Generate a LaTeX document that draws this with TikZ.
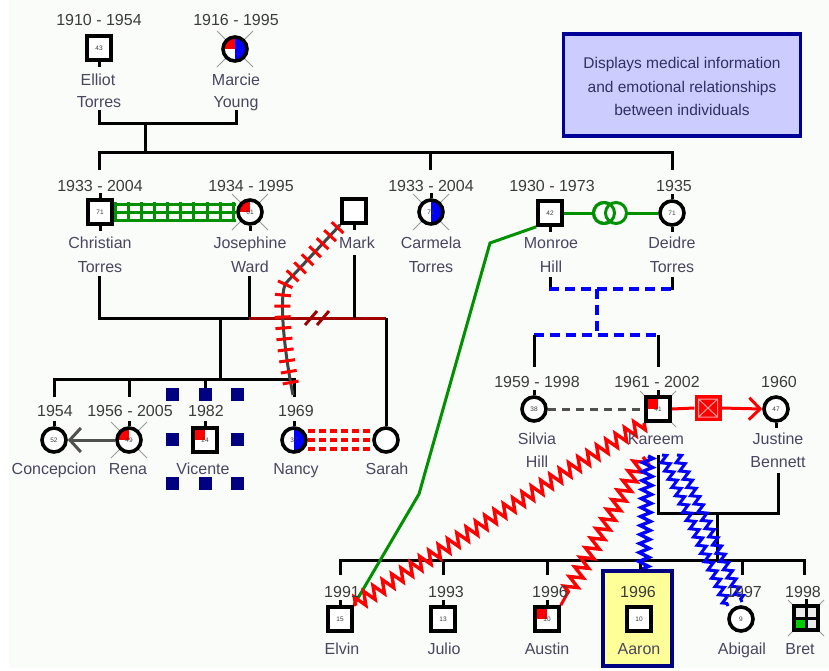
\documentclass[tikz,border=0pt]{standalone}
\usepackage{fontspec}
\setmainfont{Liberation Sans}
\usetikzlibrary{decorations.pathmorphing,decorations.markings,arrows.meta,calc}
\pgfdeclarelayer{bg}
\pgfdeclarelayer{rel}
\pgfsetlayers{bg,rel,main}
\definecolor{bgc}{HTML}{FAFCFA}
\definecolor{yearc}{HTML}{3C3C3C}
\definecolor{namec}{HTML}{4B4560}
\definecolor{dgreen}{HTML}{009000}
\definecolor{navy}{HTML}{000080}
\definecolor{maroon}{HTML}{A00000}
\definecolor{lav}{HTML}{CCCCFF}
\definecolor{boxb}{HTML}{000099}
\definecolor{hly}{HTML}{FFFF99}
\definecolor{relgray}{HTML}{505050}
\definecolor{xgray}{HTML}{9A9A9A}
\definecolor{mblue}{HTML}{0000FF}
\definecolor{mred}{HTML}{FF0000}
\definecolor{mgreen}{HTML}{00CC00}
\definecolor{hatchc}{HTML}{444444}
\definecolor{pink}{HTML}{FF9C9C}
\tikzset{
  symb/.style={draw=black, fill=white, line width=3.6pt, minimum size=24pt, inner sep=0pt,
    font=\fontsize{6.5}{7}\selectfont, text=yearc},
  male/.style={symb, rectangle},
  female/.style={symb, circle},
  qtl/.style={path picture={\fill[mred] (path picture bounding box.center) rectangle (path picture bounding box.north west);}},
  qright/.style={path picture={\fill[mblue] (path picture bounding box.north) rectangle (path picture bounding box.south east);}},
  marciefill/.style={path picture={\fill[mblue] (path picture bounding box.north) rectangle (path picture bounding box.south east);
      \fill[mred] (path picture bounding box.center) rectangle (path picture bounding box.north west);}},
  bretfill/.style={path picture={\fill[black!8] (path picture bounding box.north west) rectangle (path picture bounding box.south east);
      \fill[mgreen] (path picture bounding box.center) rectangle (path picture bounding box.south west);
      \draw[black, line width=3pt] (path picture bounding box.north) -- (path picture bounding box.south)
        (path picture bounding box.west) -- (path picture bounding box.east);}},
  yr/.style={font=\fontsize{16}{19}\selectfont, text=yearc, anchor=base, inner sep=0pt},
  nm/.style={font=\fontsize{16}{19}\selectfont, text=namec, anchor=base, inner sep=0pt},
  boxt/.style={font=\fontsize{15.5}{19}\selectfont, text=yearc!80!blue, anchor=base, inner sep=0pt},
  fam/.style={line width=3pt, draw=black},
  stubl/.style={line width=3pt, draw=black},
  deadx/.style={draw=xgray, line width=0.8pt},
  bsq/.style={fill=navy, minimum size=13pt, inner sep=0pt},
  fosterl/.style={line width=3.2pt, draw=mblue, dash pattern=on 10pt off 6pt},
  hatchline/.style={draw=hatchc, line width=3pt, postaction={decorate},
    decoration={markings, mark=between positions 0.02 and 0.99 step 11pt with {\draw[mred, line width=3pt] (0pt,-8pt) -- (0pt,8pt);}}},
  zzred/.style={draw=mred, line width=3.4pt, decorate, decoration={zigzag, segment length=11pt, amplitude=6.5pt}},
  zzblue/.style={draw=mblue, line width=3.4pt, decorate, decoration={zigzag, segment length=9pt, amplitude=5pt}},
  zzblue2/.style={draw=mblue, line width=3pt, decorate, decoration={zigzag, segment length=9pt, amplitude=4pt}},
}
\newcommand\deadmark[1]{\draw[deadx] ($(#1)+(-18,-18)$) -- ($(#1)+(18,18)$) ($(#1)+(18,-18)$) -- ($(#1)+(-18,18)$);}
\newcommand\topstub[1]{\draw[stubl] (#1.north) -- ++(0,-5);}
\newcommand\botstub[1]{\draw[stubl] (#1.south) -- ++(0,5);}
\begin{document}
\begin{tikzpicture}[x=1pt,y=-1pt]
\useasboundingbox (0,0) rectangle (829,670);
\begin{pgfonlayer}{bg}
  \fill[white] (0,0) rectangle (829,670);
  \fill[bgc] (9,0) rectangle (829,668);
\end{pgfonlayer}

% info box
\node[draw=boxb, fill=lav, line width=3.5pt, minimum width=237pt, minimum height=102pt] (info) at (682,85) {};
\node[boxt] (info1) at (682,68) {Displays medical information};
\node[boxt] (info2) at (682,92) {and emotional relationships};
\node[boxt] (info3) at (682,115) {between individuals};

% Aaron highlight box
\node[draw=navy, fill=hly, line width=3.5pt, minimum width=69pt, minimum height=95pt, inner sep=0pt] (aaronbox) at (637.5,618.5) {};

% ---------- persons ----------
\node[male] (elliot) at (99,48) {43};
\node[female, marciefill] (marcie) at (235,49) {};
\node[male] (christian) at (100,212) {71};
\node[female, qtl] (josephine) at (250,212) {61};
\node[male] (mark) at (354,211) {};
\node[female, qright] (carmela) at (431,212) {71};
\node[male] (monroe) at (550,213) {42};
\node[female] (deidre) at (672,213) {71};
\node[female] (concepcion) at (54,440) {52};
\node[female, qtl] (rena) at (129,440) {49};
\node[male, qtl] (vicente) at (205,440) {24};
\node[female, qright] (nancy) at (294,440) {37};
\node[female] (sarah) at (386,440) {};
\node[female] (silvia) at (534,409) {38};
\node[male, qtl] (kareem) at (658,409) {41};
\node[female] (justine) at (776,409) {47};
\node[male] (elvin) at (340,619) {15};
\node[male] (julio) at (443,619) {13};
\node[male, qtl] (austin) at (547,619) {10};
\node[male] (aaron) at (639,619) {10};
\node[female] (abigail) at (741,619) {9};
\node[male, bretfill] (bret) at (806,618) {};

% Vicente's surrounding squares
\node[bsq] (vb1) at (172,394) {};
\node[bsq] (vb2) at (205,394) {};
\node[bsq] (vb3) at (237,394) {};
\node[bsq] (vb4) at (172,439) {};
\node[bsq] (vb5) at (237,439) {};
\node[bsq] (vb6) at (172,483) {};
\node[bsq] (vb7) at (205,483) {};
\node[bsq] (vb8) at (237,483) {};

% rings between Monroe and Deidre
\node[circle, draw=dgreen, fill=white, line width=3pt, minimum size=21pt, inner sep=0pt] (ring1) at (604,213) {};
\node[circle, draw=dgreen, fill=white, line width=3pt, minimum size=21pt, inner sep=0pt] (ring2) at (616,213) {};
\node[circle, draw=dgreen, line width=3pt, minimum size=21pt, inner sep=0pt] (ring1b) at (604,213) {};

% cut-off box between Kareem and Justine
\node[fill=mred, minimum width=27pt, minimum height=26pt, inner sep=0pt,
  path picture={\draw[pink, line width=1pt]
    ([shift={(4pt,-4pt)}]path picture bounding box.north west) rectangle ([shift={(-4pt,4pt)}]path picture bounding box.south east)
    ([shift={(4pt,-4pt)}]path picture bounding box.north west) -- ([shift={(-4pt,4pt)}]path picture bounding box.south east)
    ([shift={(-4pt,-4pt)}]path picture bounding box.north east) -- ([shift={(4pt,4pt)}]path picture bounding box.south west);}] (cutbox) at (708,408) {};

% ---------- texts ----------
\node[yr] (elliotY) at (99,25) {1910 - 1954};
\node[nm] (elliotA) at (98,85) {Elliot};
\node[nm] (elliotB) at (99,107) {Torres};
\node[yr] (marcieY) at (236,25) {1916 - 1995};
\node[nm] (marcieA) at (236,85) {Marcie};
\node[nm] (marcieB) at (236,107) {Young};

\node[yr] (christianY) at (100,191) {1933 - 2004};
\node[nm] (christianA) at (100,248) {Christian};
\node[nm] (christianB) at (100,272) {Torres};
\node[yr] (josephineY) at (251,191) {1934 - 1995};
\node[nm] (josephineA) at (250,248) {Josephine};
\node[nm] (josephineB) at (250,272) {Ward};
\node[nm] (markA) at (357,248) {Mark};
\node[yr] (carmelaY) at (431,191) {1933 - 2004};
\node[nm] (carmelaA) at (431,248) {Carmela};
\node[nm] (carmelaB) at (431,272) {Torres};
\node[yr] (monroeY) at (552,191) {1930 - 1973};
\node[nm] (monroeA) at (551,248) {Monroe};
\node[nm] (monroeB) at (551,272) {Hill};
\node[yr] (deidreY) at (674,191) {1935};
\node[nm] (deidreA) at (672,248) {Deidre};
\node[nm] (deidreB) at (672,272) {Torres};

\node[yr] (concY) at (55,416) {1954};
\node[nm] (concA) at (54,474) {Concepcion};
\node[yr] (renaY) at (130,416) {1956 - 2005};
\node[nm] (renaA) at (128,474) {Rena};
\node[yr] (vicY) at (206,416) {1982};
\node[nm] (vicA) at (203,474) {Vicente};
\node[yr] (nancyY) at (296,416) {1969};
\node[nm] (nancyA) at (296,474) {Nancy};
\node[nm] (sarahA) at (387,474) {Sarah};

\node[yr] (silviaY) at (537,387) {1959 - 1998};
\node[nm] (silviaA) at (537,444) {Silvia};
\node[nm] (silviaB) at (537,467) {Hill};
\node[yr] (kareemY) at (657,387) {1961 - 2002};
\node[nm] (kareemA) at (656,444) {Kareem};
\node[yr] (justineY) at (779,387) {1960};
\node[nm] (justineA) at (778,444) {Justine};
\node[nm] (justineB) at (778,467) {Bennett};

\node[yr] (elvinY) at (342,597) {1991};
\node[nm] (elvinA) at (342,654) {Elvin};
\node[yr] (julioY) at (446,597) {1993};
\node[nm] (julioA) at (444,654) {Julio};
\node[yr] (austinY) at (550,597) {1996};
\node[nm] (austinA) at (547,654) {Austin};
\node[yr] (aaronY) at (638,597) {1996};
\node[nm] (aaronA) at (639,654) {Aaron};
\node[yr] (abigailY) at (744,597) {1997};
\node[nm] (abigailA) at (742,654) {Abigail};
\node[yr] (bretY) at (803,597) {1998};
\node[nm] (bretA) at (800,654) {Bret};

% ---------- lines (behind symbols) ----------
\begin{pgfonlayer}{rel}
% deceased marks
\deadmark{marcie}
\deadmark{josephine}
\deadmark{carmela}
\deadmark{rena}
\deadmark{kareem}
\deadmark{bret}

% stubs
\botstub{elliot}
\topstub{christian} \botstub{christian}
\botstub{josephine}
\botstub{mark}
\topstub{carmela}
\botstub{monroe}
\topstub{deidre} \botstub{deidre}
\topstub{concepcion} \topstub{rena} \topstub{vicente} \topstub{nancy}
\topstub{silvia} \topstub{kareem} \botstub{justine}
\topstub{elvin} \topstub{julio} \topstub{austin} \topstub{bret}

% generation 1 family
\coordinate (g1e) at (99,110);
\coordinate (g1m) at (236,110);
\coordinate (g1c) at (145,123);
\coordinate (g1d) at (145,152);
\draw[fam] (g1e) |- (g1c) -| (g1m);
\draw[fam] (g1c) -- (g1d);
\coordinate (s1at) at (99,170);
\coordinate (s1c) at (672,152);
\coordinate (s1ct) at (672,170);
\coordinate (s1b) at (430,152);
\coordinate (s1bt) at (430,170);
\draw[fam] (s1at) |- (s1c) -- (s1ct);
\draw[fam] (s1b) -- (s1bt);

% Christian + Josephine family
\coordinate (ct) at (99,276);
\coordinate (jt) at (249,276);
\coordinate (cj) at (220,318);
\coordinate (cjd) at (220,379);
\draw[fam] (ct) |- (cj) -| (jt);
\draw[fam] (cj) -- (cjd);
\coordinate (sib1) at (54,397);
\coordinate (sib4) at (294,397);
\coordinate (sib4t) at (294,379);
\draw[fam] (sib1) |- (sib4t) -- (sib4);
\coordinate (sib2a) at (129,379);
\coordinate (sib2b) at (129,397);
\coordinate (sib3a) at (205,379);
\coordinate (sib3b) at (205,397);
\draw[fam] (sib2a) -- (sib2b);
\draw[fam] (sib3a) -- (sib3b);

% Josephine + Mark (divorced)
\coordinate (jm1) at (249,318);
\coordinate (jm2) at (386,318);
\coordinate (mt) at (354,255);
\coordinate (mb) at (354,318);
\draw[line width=3pt, draw=maroon] (jm1) -- (jm2);
\draw[line width=3pt, draw=maroon] (305,325) -- (317,311) (317,325) -- (329,311);
\draw[fam] (mt) -- (mb);
\draw[fam] (jm2) -- (sarah.north);

% Monroe + Deidre (foster children)
\coordinate (mo1) at (550,277);
\coordinate (mo2) at (550,290);
\coordinate (de1) at (672,277);
\coordinate (de2) at (672,290);
\draw[fam] (mo1) -- (mo2);
\draw[fam] (de1) -- (de2);
\coordinate (fd1) at (549,289);
\coordinate (fd2) at (673,289);
\coordinate (fdc) at (597,289);
\coordinate (fdb) at (597,335);
\coordinate (fs1) at (534,335);
\coordinate (fs2) at (658,335);
\draw[fosterl] (fd1) -- (fd2);
\draw[fosterl] (fdc) -- (fdb);
\draw[fosterl] (fs1) -- (fs2);
\coordinate (fs1b) at (534,367);
\coordinate (fs2b) at (658,367);
\draw[fam] (fs1) -- (fs1b);
\draw[fam] (fs2) -- (fs2b);

% Kareem + Justine family
\coordinate (kt) at (658,455);
\coordinate (kjt) at (778,473);
\coordinate (kj) at (717,513);
\coordinate (kjd) at (717,560);
\draw[fam] (kt) |- (kj) -| (kjt);
\draw[fam] (kj) -- (kjd);
\coordinate (c4a) at (340,575);
\coordinate (c4f) at (804,575);
\coordinate (c4ft) at (804,560);
\draw[fam] (c4a) |- (c4ft) -- (c4f);
\coordinate (c4b) at (443,560);  \coordinate (c4bb) at (443,575);
\coordinate (c4c) at (547,560);  \coordinate (c4cb) at (547,575);
\coordinate (c4d) at (640,560);
\coordinate (c4e) at (742,560);  \coordinate (c4eb) at (742,575);
\draw[fam] (c4b) -- (c4bb);
\draw[fam] (c4c) -- (c4cb);
\draw[fam] (c4d) -- (aaronbox.north -| c4d);
\draw[fam] (c4e) -- (c4eb);

% emotional relationships
\draw[dgreen, line width=3pt] ([yshift=8pt]christian.east) -- ([yshift=8pt]josephine.west);
\draw[dgreen, line width=3pt] (christian.east) -- (josephine.west);
\draw[dgreen, line width=3pt] ([yshift=-8pt]christian.east) -- ([yshift=-8pt]josephine.west);
\path[decorate, decoration={markings, mark=between positions 1.5pt and 1 step 13.1pt with {\draw[dgreen, line width=3pt] (0pt,-10pt) -- (0pt,10pt);}}] (christian.east) -- (josephine.west);

\draw[dgreen, line width=3pt] (monroe.east) -- (deidre.west);

\coordinate (mn1) at (286,283);
\coordinate (mn2) at (293,395);
\draw[hatchline] (mark.south west) -- (mn1) .. controls (279,293) and (283,345) .. (mn2);

\draw[mred, line width=3.2pt, dash pattern=on 7pt off 4pt] ([yshift=9pt]nancy.east) -- ([yshift=9pt]sarah.west);
\draw[mred, line width=3.2pt, dash pattern=on 7pt off 4pt] (nancy.east) -- (sarah.west);
\draw[mred, line width=3.2pt, dash pattern=on 7pt off 4pt] ([yshift=-9pt]nancy.east) -- ([yshift=-9pt]sarah.west);

\draw[relgray, line width=3pt, -{Straight Barb[length=11pt, width=24pt]}] (rena.west) -- (concepcion.east);

\draw[relgray, line width=3pt, dash pattern=on 8pt off 6pt] (silvia.east) -- (kareem.west);

\draw[mred, line width=3pt] (kareem.east) -- (cutbox.west);
\draw[mred, line width=3pt, -{Straight Barb[length=11pt, width=22pt]}] (cutbox.east) -- (justine.west);

\coordinate (gr1) at (490,243);
\coordinate (gr2) at (419,494);
\draw[dgreen, line width=3pt] (monroe.south west) -- (gr1) -- (gr2) -- (elvin.north east);

\draw[zzred] (kareem.south west) -- (elvin.north east);
\coordinate (ka1) at (643,457);
\coordinate (ka2) at (567,594);
\draw[zzred] (ka1) -- (ka2);
\draw[mred, line width=3pt] (ka2) -- (austin.north east);

\coordinate (kb1) at (648,456);
\draw[zzblue] (kb1) -- ([xshift=6pt]aaronbox.north);
\coordinate (kb2s) at (662,455);
\coordinate (kb2e) at (728,606);
\coordinate (kb3s) at (677,455);
\coordinate (kb3e) at (742,602);
\draw[zzblue2] (kb2s) -- (kb2e);
\draw[zzblue2] (kb3s) -- (kb3e);
\end{pgfonlayer}
\end{tikzpicture}
\end{document}
